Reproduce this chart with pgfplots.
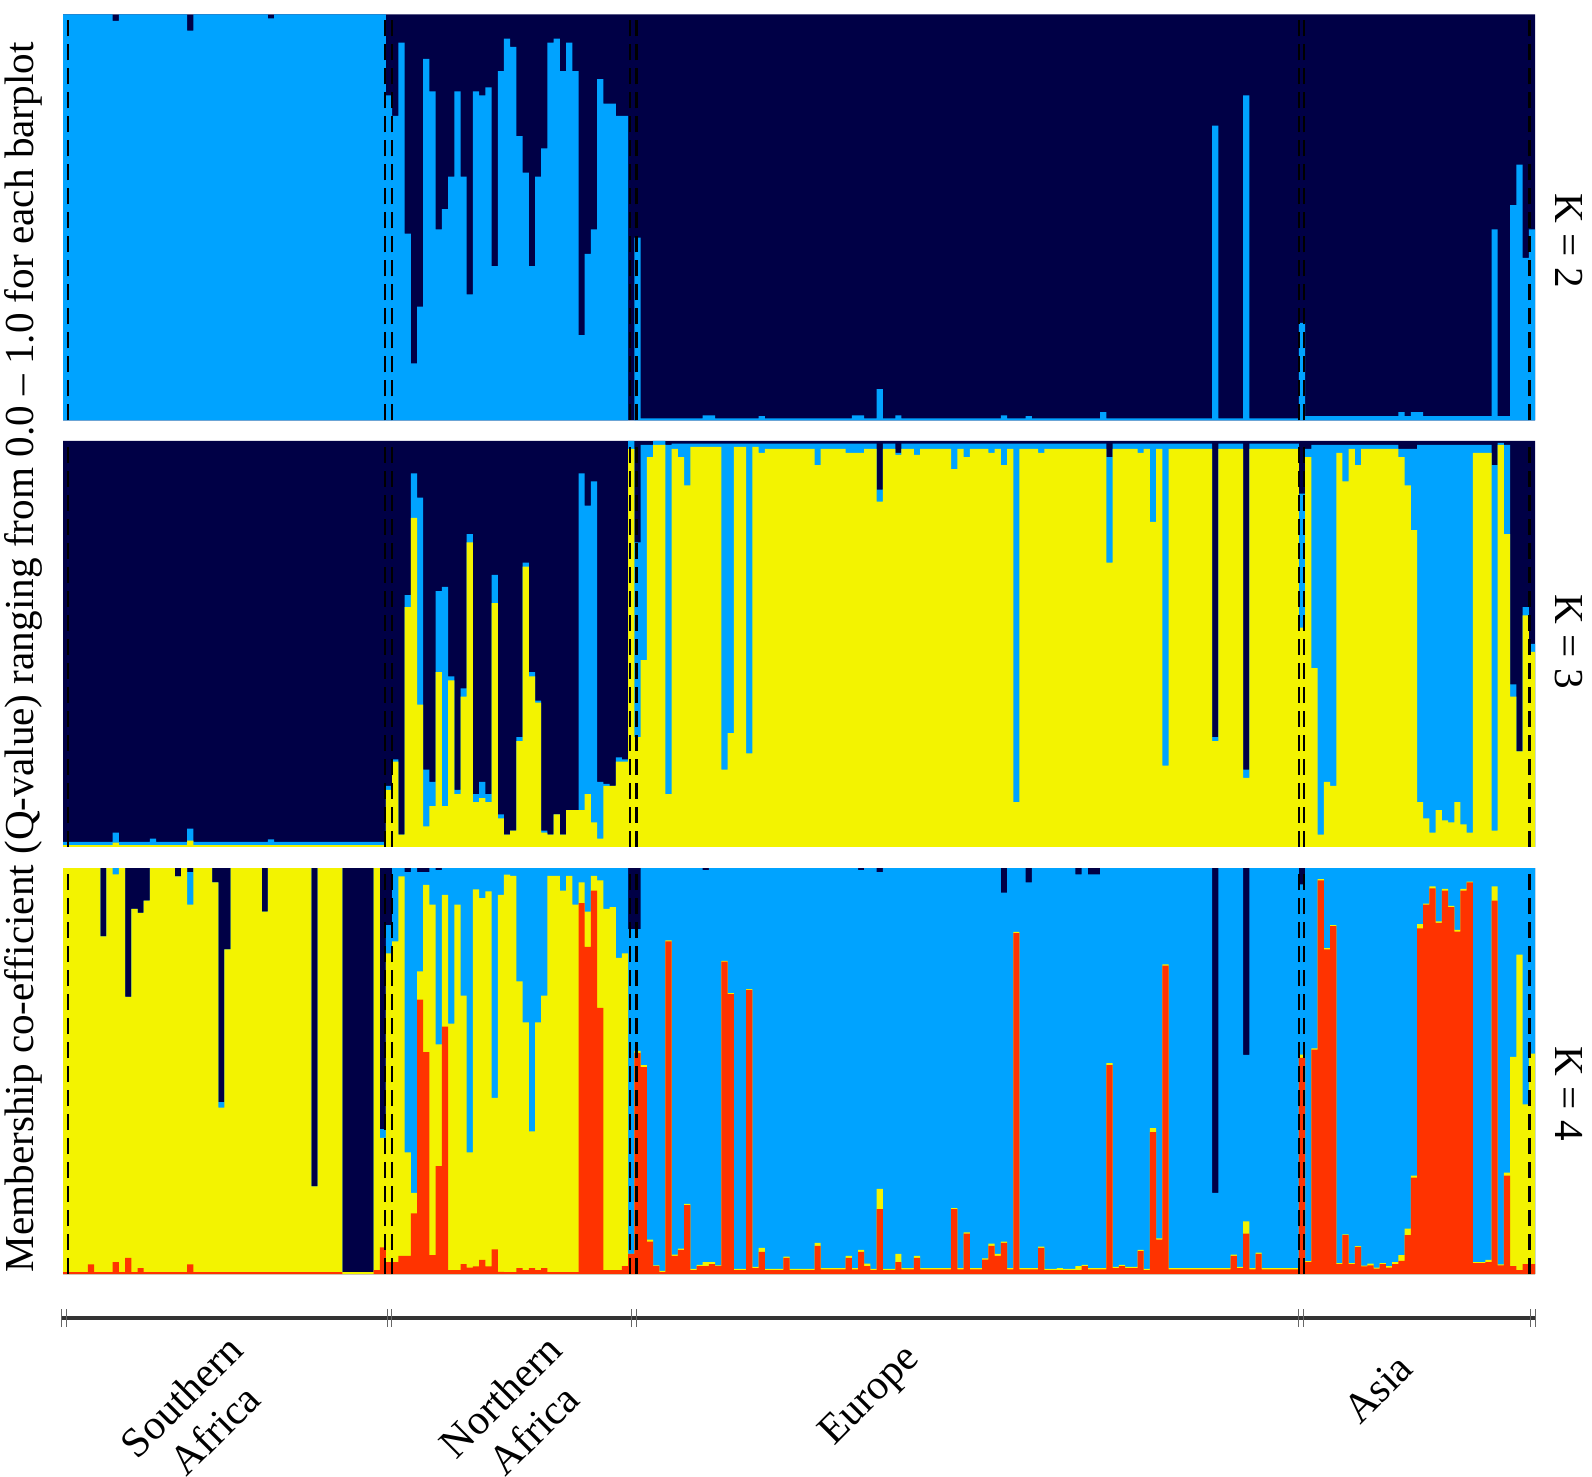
\documentclass[border=0pt]{standalone}
\usepackage{fontspec}
\setmainfont{Liberation Serif}
\usepackage{pgfplots}
\pgfplotsset{compat=1.18}
\definecolor{qnavy}{RGB}{0,0,70}
\definecolor{qblue}{RGB}{0,163,255}
\definecolor{qyellow}{RGB}{243,243,0}
\definecolor{qred}{RGB}{255,51,0}
\pgfplotsset{
  panel/.style={width=736pt,height=203pt,scale only axis,xmin=0,xmax=237,ymin=0,ymax=1,hide axis,anchor=south west},
  layer/.style={const plot, draw=none, fill=#1},
  sep/.style={black, line width=1.1pt, dash pattern=on 8pt off 4pt},
}
\newcommand{\separators}{%
  \pgfplotsinvokeforeach{0.75,51.9,53,91.3,92.35,198.95,199.85,236.1}{\addplot[sep] coordinates {(##1,0) (##1,1)};}}
\begin{document}
\begin{tikzpicture}
\useasboundingbox (0,0) rectangle (796pt,738.5pt);
% ---------------- K = 2 ----------------
\begin{axis}[panel, at={(31.5pt,528.35pt)}]
\addplot[layer=qnavy] coordinates {(0,1) (237,1)} \closedcycle;
\addplot[layer=qblue] coordinates {
(0,1) (8,0.984) (9,1) (20,0.96) (21,1) (33,0.99) (34,1)
(52,0.80) (53,0.75) (54,0.93) (55,0.46) (56,0.14) (57,0.28) (58,0.89) (59,0.81) (60,0.47) (61,0.52) (62,0.60) (63,0.81) (64,0.60) (65,0.31) (66,0.81) (67,0.80) (68,0.82) (69,0.38) (70,0.86) (71,0.94) (72,0.92) (73,0.70) (74,0.61) (75,0.38) (76,0.60) (77,0.67) (78,0.93) (79,0.94) (80,0.86) (81,0.93) (82,0.86) (83,0.21) (84,0.41) (85,0.47) (86,0.84) (87,0.78) (88,0.78) (89,0.75)
(91,0) (92,0.45) (93,0.005) (103,0.012) (105,0.005) (112,0.01) (113,0.005) (127,0.012) (129,0.005) (131,0.077) (132,0.005) (134,0.012) (135,0.005) (151,0.012) (152,0.005) (155,0.01) (156,0.005) (167,0.02) (168,0.005) (185,0.726) (186,0.005) (190,0.80) (191,0.005)
(199,0.24) (200,0.01) (215,0.02) (216,0.01) (217,0.02) (219,0.01) (230,0.47) (231,0.01) (233,0.53) (234,0.63) (235,0.40) (236,0.47) (237,0.47)
} \closedcycle;
\separators
\end{axis}
% ---------------- K = 3 ----------------
\begin{axis}[panel, at={(31.5pt,315.1pt)}]
\addplot[layer=qnavy] coordinates {(0,1) (237,1)} \closedcycle;
\addplot[layer=qblue] coordinates {
(0,0.012) (8,0.035) (9,0.012) (14,0.02) (15,0.012) (20,0.045) (21,0.012) (33,0.018) (34,0.012)
(52,0.15) (53,0.215) (54,0.03) (55,0.62) (56,0.92) (57,0.86) (58,0.19) (59,0.16) (60,0.63) (61,0.64) (62,0.42) (63,0.14) (64,0.39) (65,0.77) (66,0.13) (67,0.16) (68,0.13) (69,0.67) (70,0.08) (71,0.03) (72,0.04) (73,0.27) (74,0.70) (75,0.43) (76,0.36) (77,0.04) (78,0.03) (79,0.08) (80,0.03) (81,0.09) (83,0.92) (84,0.84) (85,0.90) (86,0.16) (87,0.155) (88,0.15) (89,0.22) (90,0.215)
(91,1.0) (92,0.75) (93,0.99) (95,1.0) (97,0.99) (98,0.993) (131,0.88) (132,0.993) (134,0.97) (135,0.993) (168,0.96) (169,0.993) (185,0.27) (186,0.993) (190,0.19) (191,0.993)
(199,0.87) (200,0.98) (201,0.99) (215,0.98) (218,0.99) (230,0.94) (231,0.995) (232,0.99) (233,0.40) (234,0.235) (235,0.59) (236,0.50) (237,0.50)
} \closedcycle;
\addplot[layer=qyellow] coordinates {
(0,0.004) (8,0.01) (9,0.004) (20,0.015) (21,0.004)
(52,0.14) (53,0.21) (54,0.03) (55,0.59) (56,0.81) (57,0.35) (58,0.05) (59,0.10) (60,0.43) (61,0.10) (62,0.41) (63,0.13) (64,0.37) (65,0.75) (66,0.11) (67,0.12) (68,0.11) (69,0.60) (70,0.07) (71,0.03) (72,0.04) (73,0.26) (74,0.69) (75,0.42) (76,0.355) (77,0.035) (78,0.03) (79,0.08) (80,0.03) (81,0.09) (84,0.13) (85,0.06) (86,0.02) (87,0.15) (89,0.21)
(91,0.98) (92,0.27) (93,0.46) (94,0.96) (95,0.99) (97,0.13) (98,0.98) (99,0.96) (100,0.89) (101,0.985) (106,0.19) (107,0.28) (108,0.985) (110,0.23) (111,0.985) (112,0.97) (113,0.98) (121,0.94) (122,0.98) (126,0.97) (129,0.98) (131,0.85) (132,0.98) (134,0.965) (135,0.98) (137,0.965) (138,0.98) (143,0.93) (144,0.98) (145,0.96) (146,0.98) (149,0.97) (150,0.98) (151,0.94) (152,0.98) (153,0.11) (154,0.98) (157,0.97) (158,0.98) (168,0.70) (169,0.98) (173,0.97) (174,0.98) (175,0.80) (176,0.98) (177,0.20) (178,0.98) (185,0.26) (186,0.98) (190,0.17) (191,0.98)
(199,0.54) (200,0.96) (201,0.44) (202,0.03) (203,0.16) (204,0.15) (205,0.97) (206,0.90) (207,0.98) (208,0.94) (209,0.98) (215,0.96) (216,0.89) (217,0.78) (218,0.11) (219,0.07) (220,0.035) (221,0.09) (222,0.065) (223,0.06) (224,0.11) (225,0.055) (226,0.035) (227,0.97) (230,0.04) (231,0.99) (232,0.77) (233,0.37) (234,0.235) (235,0.57) (236,0.48) (237,0.48)
} \closedcycle;
\separators
\end{axis}
% ---------------- K = 4 ----------------
\begin{axis}[panel, at={(31.5pt,101.4pt)}, clip=false]
\addplot[layer=qnavy] coordinates {(0,1) (237,1)} \closedcycle;
\addplot[layer=qblue] coordinates {
(0,1) (6,0.832) (7,1) (10,0.683) (11,0.90) (12,0.89) (13,0.92) (14,1) (18,0.98) (19,1) (20,0.99) (21,1) (24,0.965) (25,0.424) (26,0.80) (27,1) (32,0.893) (33,1) (40,0.216) (41,1) (45,0.005) (50,1) (51,0.357)
(52,0.86) (53,1) (55,0.99) (56,1) (57,0.99) (59,1) (60,0.995) (61,1)
(91,0.85) (93,1) (103,0.995) (104,1) (128,0.995) (129,1) (131,0.99) (132,1) (151,0.94) (152,1) (155,0.965) (156,1) (163,0.985) (164,1) (165,0.985) (167,1) (185,0.20) (186,1) (190,0.54) (191,1)
(199,0.96) (200,1) (237,1)
} \closedcycle;
\addplot[layer=qyellow] coordinates {
(0,1) (6,0.832) (7,1) (8,0.985) (9,1) (10,0.683) (11,0.90) (12,0.89) (13,0.92) (14,1) (18,0.98) (19,1) (20,0.91) (21,1) (24,0.965) (25,0.41) (26,0.80) (27,1) (32,0.893) (33,1) (40,0.216) (41,1) (45,0.005) (50,1) (51,0.336)
(52,0.79) (53,0.82) (54,0.98) (55,0.30) (56,0.20) (57,0.746) (58,0.959) (59,0.91) (60,0.566) (61,0.934) (62,0.617) (63,0.91) (64,0.686) (65,0.30) (66,0.948) (67,0.926) (68,0.943) (69,0.434) (70,0.934) (71,0.984) (72,0.981) (73,0.721) (74,0.62) (75,0.352) (76,0.62) (77,0.686) (78,0.981) (80,0.945) (81,0.981) (82,0.91) (83,0.965) (84,0.893) (85,0.981) (86,0.97) (87,0.90) (88,0.904) (89,0.779) (90,0.79)
(91,0.05) (92,0.55) (93,0.515) (94,0.085) (95,0.022) (96,0.008) (97,0.822) (98,0.048) (99,0.063) (100,0.173) (101,0.013) (102,0.023) (103,0.03) (105,0.022) (106,0.772) (107,0.692) (108,0.013) (110,0.702) (111,0.018) (112,0.065) (113,0.013) (116,0.043) (117,0.013) (121,0.077) (122,0.015) (126,0.045) (127,0.015) (128,0.06) (129,0.026) (130,0.013) (131,0.21) (132,0.013) (134,0.05) (135,0.015) (137,0.045) (138,0.015) (143,0.163) (144,0.015) (145,0.103) (146,0.015) (148,0.039) (149,0.075) (150,0.05) (151,0.08) (152,0.015) (153,0.843) (154,0.015) (157,0.068) (158,0.013) (160,0.015) (161,0.013) (163,0.02) (164,0.023) (165,0.015) (168,0.52) (169,0.018) (170,0.023) (171,0.018) (173,0.06) (174,0.013) (175,0.36) (176,0.088) (177,0.763) (178,0.015) (188,0.048) (189,0.018) (190,0.13) (191,0.015) (192,0.053) (193,0.015)
(199,0.541) (200,0.032) (201,0.556) (202,0.973) (203,0.803) (204,0.86) (205,0.027) (206,0.098) (207,0.027) (208,0.069) (209,0.021) (210,0.026) (211,0.016) (212,0.027) (213,0.02) (214,0.03) (215,0.047) (216,0.112) (217,0.243) (218,0.862) (219,0.913) (220,0.955) (221,0.869) (222,0.949) (223,0.907) (224,0.848) (225,0.949) (226,0.967) (227,0.03) (229,0.035) (230,0.955) (231,0.024) (232,0.25) (233,0.535) (234,0.787) (235,0.418) (236,0.543) (237,0.543)
} \closedcycle;
\addplot[layer=qred] coordinates {
(0,0.005) (4,0.024) (5,0.005) (8,0.03) (9,0.005) (10,0.04) (11,0.005) (12,0.015) (13,0.005) (20,0.024) (21,0.005) (45,0.0) (50,0.01) (51,0.066)
(52,0.03) (54,0.045) (56,0.15) (57,0.676) (58,0.547) (59,0.047) (60,0.266) (61,0.61) (62,0.01) (64,0.025) (65,0.016) (66,0.019) (67,0.035) (68,0.019) (69,0.061) (70,0.006) (71,0.005) (73,0.015) (74,0.01) (75,0.015) (76,0.01) (77,0.015) (78,0.005) (83,0.914) (84,0.806) (85,0.945) (86,0.656) (87,0.01) (90,0.02)
(91,0.05) (92,0.545) (93,0.51) (94,0.08) (95,0.02) (96,0.005) (97,0.82) (98,0.045) (99,0.06) (100,0.17) (101,0.01) (102,0.02) (104,0.025) (105,0.02) (106,0.77) (107,0.69) (108,0.01) (110,0.70) (111,0.015) (112,0.055) (113,0.01) (116,0.04) (117,0.01) (121,0.07) (122,0.012) (126,0.04) (127,0.012) (128,0.055) (129,0.02) (130,0.01) (131,0.16) (132,0.01) (134,0.03) (135,0.012) (137,0.04) (138,0.012) (143,0.16) (144,0.012) (145,0.10) (146,0.012) (148,0.036) (149,0.07) (150,0.045) (151,0.077) (152,0.012) (153,0.84) (154,0.012) (157,0.065) (158,0.01) (164,0.02) (165,0.012) (168,0.515) (169,0.015) (170,0.02) (171,0.015) (173,0.057) (174,0.01) (175,0.35) (176,0.085) (177,0.76) (178,0.012) (188,0.045) (189,0.015) (190,0.10) (191,0.012) (192,0.05) (193,0.012)
(199,0.533) (200,0.03) (201,0.553) (202,0.97) (203,0.80) (204,0.857) (205,0.025) (206,0.096) (207,0.025) (208,0.067) (209,0.019) (210,0.022) (211,0.014) (212,0.025) (213,0.016) (214,0.025) (215,0.033) (216,0.096) (217,0.238) (218,0.852) (219,0.91) (220,0.95) (221,0.865) (222,0.945) (223,0.904) (224,0.844) (225,0.945) (226,0.965) (227,0.027) (229,0.03) (230,0.92) (231,0.022) (232,0.243) (233,0.02) (234,0.01) (235,0.025) (237,0.025)
} \closedcycle;
\separators
% group scale below the panels
\draw[black!80, line width=1.6pt] (axis cs:-0.2,-0.1078) -- (axis cs:237.1,-0.1078);
\pgfplotsinvokeforeach{-0.2,0.5,52.2,52.9,91.5,92.3,198.9,199.8,236.3,237.1}{%
  \draw[black!60, line width=0.5pt] (axis cs:#1,-0.130) -- (axis cs:#1,-0.086);}
\end{axis}
% ---------------- texts ----------------
\node[rotate=90, inner sep=0pt, font=\fontsize{20.6}{24}\selectfont] at (11.5pt,409.8pt)
  {Membership co-efficient (Q-value) ranging from 0.0 – 1.0 for each barplot};
\node[rotate=-90, inner sep=0pt, font=\fontsize{20.6}{24}\selectfont] at (784.5pt,618pt) {K = 2};
\node[rotate=-90, inner sep=0pt, font=\fontsize{20.6}{24}\selectfont] at (784.5pt,417.5pt) {K = 3};
\node[rotate=-90, inner sep=0pt, font=\fontsize{20.6}{24}\selectfont] at (784.5pt,191.5pt) {K = 4};
\node[rotate=45, inner sep=0pt, align=center, font=\fontsize{21}{23.5}\selectfont] at (99pt,32pt) {Southern\\Africa};
\node[rotate=45, inner sep=0pt, align=center, font=\fontsize{21}{23.5}\selectfont] at (258.5pt,32pt) {Northern\\Africa};
\node[rotate=45, inner sep=0pt, font=\fontsize{21}{23.5}\selectfont] at (435.5pt,40pt) {Europe};
\node[rotate=45, inner sep=0pt, font=\fontsize{21}{23.5}\selectfont] at (689pt,44pt) {Asia};
\end{tikzpicture}
\end{document}
